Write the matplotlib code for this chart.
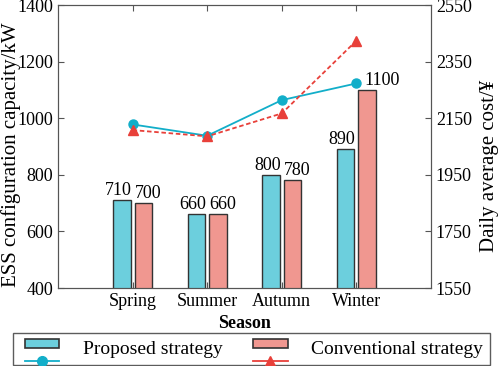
import matplotlib
matplotlib.use("Agg")
import matplotlib.pyplot as plt
from matplotlib.patches import Rectangle
from matplotlib.lines import Line2D
from matplotlib.legend_handler import HandlerBase
import numpy as np

plt.rcParams['font.family'] = ['Liberation Serif', 'DejaVu Serif']

seasons = ["Spring", "Summer", "Autumn", "Winter"]
cap_proposed = [710, 660, 800, 890]
cap_conventional = [700, 660, 780, 1100]
cost_proposed = [2128, 2088, 2214, 2273]
cost_conventional = [2108, 2086, 2167, 2424]

c_bar1 = "#6ccfdd"
c_bar2 = "#f09790"
c_line1 = "#12aec9"
c_line2 = "#e8403a"


class StackedHandler(HandlerBase):
    # bar patch on top, line with marker below
    def __init__(self, face, lcolor, marker, ls):
        super().__init__()
        self.face, self.lcolor, self.marker, self.ls = face, lcolor, marker, ls

    def create_artists(self, legend, orig_handle, xdescent, ydescent,
                       width, height, fontsize, trans):
        x0 = -xdescent + width * 0.135
        w = width * 0.865
        rect = Rectangle((x0, -ydescent + height * 0.45), w, height * 0.6,
                         facecolor=self.face, edgecolor="#333333", lw=1.2,
                         transform=trans)
        y = -ydescent - height * 0.35
        ln = Line2D([x0, x0 + w], [y, y], color=self.lcolor,
                    ls=self.ls, lw=1.3, transform=trans)
        mk = Line2D([x0 + w / 2], [y], color=self.lcolor,
                    marker=self.marker, ms=7, ls="none", transform=trans)
        return [rect, ln, mk]


fig = plt.figure(figsize=(4.98, 3.66), dpi=100)
ax = fig.add_axes([0.1165, 0.2131, 0.749, 0.7732])
x = np.arange(1, len(seasons) + 1)
w = 0.235
off = 0.145

ax.bar(x - off, cap_proposed, w, color=c_bar1, edgecolor="#333333", lw=1.0, zorder=2)
ax.bar(x + off, cap_conventional, w, color=c_bar2, edgecolor="#333333", lw=1.0, zorder=2)

for i in range(len(seasons)):
    ax.text(x[i] - off - 0.05, cap_proposed[i] + 4, str(cap_proposed[i]), ha="center",
            va="bottom", fontsize=13)
    dx = 0.2 if cap_conventional[i] > 1000 else 0.06
    ax.text(x[i] + off + dx, cap_conventional[i] + 4, str(cap_conventional[i]),
            ha="center", va="bottom", fontsize=13)

ax.set_xlim(0, 5)
ax.set_ylim(400, 1400)
ax.set_yticks([400, 600, 800, 1000, 1200, 1400])
ax.set_xticks(x)
ax.set_xticklabels(seasons)
ax.set_xlabel("Season", fontweight="bold", fontsize=13, labelpad=4)
ax.set_ylabel("ESS configuration capacity/kW", fontsize=15)
ax.yaxis.set_label_coords(-0.1, 0.47)
ax.tick_params(direction="in", top=True, labelsize=13, length=4, color="#555555")

ax2 = ax.twinx()
ax2.plot(x, cost_proposed, color=c_line1, lw=1.3, marker="o", ms=6.5, zorder=3)
ax2.plot(x, cost_conventional, color=c_line2, lw=1.3, ls=(0, (2.5, 1.5)),
         marker="^", ms=6.5, zorder=3)
ax2.set_ylim(1550, 2550)
ax2.set_yticks([1550, 1750, 1950, 2150, 2350, 2550])
ax2.set_ylabel("Daily average cost/\u00a5", fontsize=15)
ax2.yaxis.set_label_coords(1.13, 0.43)
ax2.tick_params(direction="in", labelsize=13, length=4, color="#555555")

for a in (ax, ax2):
    for s in a.spines.values():
        s.set_color("#555555")

h1 = Rectangle((0, 0), 1, 1)
h2 = Rectangle((0, 0), 1, 1)
fig.legend([h1, h2], ["Proposed strategy", "Conventional strategy"],
           handler_map={h1: StackedHandler(c_bar1, c_line1, "o", "-"),
                        h2: StackedHandler(c_bar2, c_line2, "^", "-")},
           loc="lower left", bbox_to_anchor=(13 / 498, 1 / 366),
           ncol=2, fontsize=14, frameon=True, fancybox=False,
           edgecolor="#333333", handlelength=2.03, handletextpad=1.2,
           columnspacing=1.32, borderaxespad=0, borderpad=0.35, handleheight=0.9)

fig.savefig("out.png", dpi=100)
